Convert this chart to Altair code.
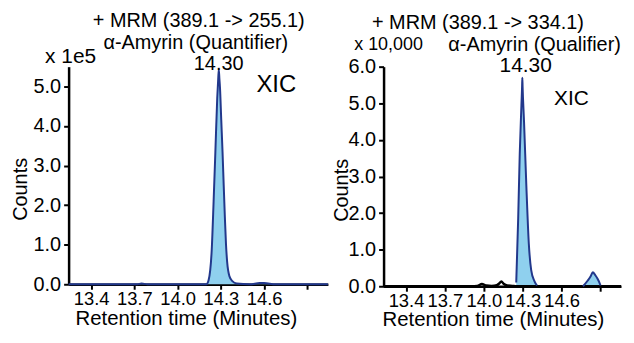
import altair as alt
import pandas as pd

FONT = "Liberation Sans"
NAVY = "#22388c"
FILL = "#8fd0ee"

# ---- Left panel: Quantifier (x 1e5) ----
left_t = [13.244, 13.6, 13.72, 13.75, 13.79, 13.85, 14.1, 14.2, 14.215, 14.237, 14.25,
          14.262, 14.275, 14.282, 14.286, 14.29, 14.294, 14.303, 14.312, 14.32, 14.328,
          14.336, 14.344, 14.36, 14.38, 14.41, 14.5, 14.57, 14.6, 14.68, 14.8, 15.043]
left_c = [0, 0, 0, 0.02, 0, 0, 0, 0, 0.1, 0.88, 2.1,
          3.33, 4.7, 5.2, 5.42, 5.2, 4.98, 4.15, 3.33, 2.5, 1.7,
          1.0, 0.56, 0.2, 0.08, 0.02, 0, 0.03, 0.03, 0, 0, 0]

# ---- Right panel: Qualifier (x 10,000) ----
right_base_t = [13.227, 13.9, 13.95, 13.985, 14.02, 14.06, 14.1, 14.12, 14.135, 14.155,
                14.18, 14.22, 14.25, 14.4, 14.7, 15.058]
right_base_c = [0, 0, 0.01, 0.06, 0.02, 0.01, 0.03, 0.08, 0.13, 0.06,
                0.02, 0.01, 0, 0, 0, 0]
right_peak_t = [14.25, 14.265, 14.277, 14.29, 14.295, 14.297, 14.299, 14.31, 14.328,
                14.347, 14.365, 14.39, 14.41]
right_peak_c = [0.1, 1.86, 3.62, 4.95, 5.45, 5.7, 5.45, 4.5, 2.74,
                1.16, 0.45, 0.14, 0.02]
right_bump_t = [14.765, 14.8, 14.825, 14.84, 14.86, 14.885, 14.9]
right_bump_c = [0, 0.15, 0.28, 0.38, 0.3, 0.15, 0.02]

x_ticks = [13.4, 13.7, 14.0, 14.3, 14.6, 14.9]
left_y_ticks = [0, 1, 2, 3, 4, 5]
right_y_ticks = [0, 1, 2, 3, 4, 5, 6]

left_dom_x = [13.244, 15.043]
right_dom_x = [13.227, 15.058]

df_left = pd.DataFrame({"t": left_t, "c": left_c, "seg": "main"})
df_rpk = pd.concat([
    pd.DataFrame({"t": right_peak_t, "c": right_peak_c, "seg": "peak"}),
    pd.DataFrame({"t": right_bump_t, "c": right_bump_c, "seg": "bump"}),
])
df_rbase = pd.DataFrame({"t": right_base_t, "c": right_base_c, "seg": "base"})

label_expr = "datum.value > 14.8 ? '' : format(datum.value, '.1f')"


def xenc(dom, title_x):
    return alt.X("t:Q", scale=alt.Scale(domain=dom, nice=False, zero=False),
                 axis=alt.Axis(values=x_ticks, labelExpr=label_expr,
                               title="Retention time (Minutes)", labelOverlap=False,
                               titleX=title_x, titleY=34, titleBaseline="middle",
                               titleAnchor="start", titleAlign="center",
                               labelPadding=0))


def yenc(dom, ticks, title_x, title_y):
    return alt.Y("c:Q", scale=alt.Scale(domain=dom, nice=False),
                 axis=alt.Axis(values=ticks, format=".1f", title="Counts",
                               labelOverlap=False, labelBound=False, tickCount=len(ticks),
                               titleX=title_x, titleY=title_y,
                               titleBaseline="middle", titleAlign="center",
                               labelFontSize=20, titleFontSize=20, labelPadding=3))


def texts(items):
    layers = []
    for txt, x, y, size in items:
        layers.append(
            alt.Chart(pd.DataFrame({"txt": [txt]})).mark_text(
                font=FONT, fontSize=size, align="center", baseline="middle",
                color="black"
            ).encode(text="txt:N", x=alt.value(x), y=alt.value(y))
        )
    return layers


# left
lx = xenc(left_dom_x, 118)
ly = yenc([0, 5.5], left_y_ticks, -48, 123)
l_area = alt.Chart(df_left).mark_area(color=FILL, interpolate="monotone").encode(
    x=lx, y=ly, detail="seg:N")
l_line = alt.Chart(df_left).mark_line(color=NAVY, strokeWidth=2, interpolate="monotone").encode(
    x=lx, y=ly, detail="seg:N")
left = alt.layer(
    l_area, l_line,
    *texts([
        ("+ MRM (389.1 -> 255.1)", 131, -45.9, 20),
        ("α-Amyrin (Quantifier)", 128, -24, 20),
        ("x 1e5", 2, -9.8, 21),
        ("14.30", 151, -2.4, 20),
        ("XIC", 209, 18.5, 24),
    ])
).properties(width=261, height=219)

# right
rx = xenc(right_dom_x, 110)
ry = yenc([0, 6], right_y_ticks, -42, 124)
r_area = alt.Chart(df_rpk).mark_area(color=FILL, interpolate="monotone").encode(
    x=rx, y=ry, detail="seg:N")
r_base = alt.Chart(df_rbase).mark_line(color="black", strokeWidth=2.5, interpolate="monotone").encode(
    x=rx, y=ry, detail="seg:N")
r_line = alt.Chart(df_rpk).mark_line(color=NAVY, strokeWidth=2, interpolate="monotone").encode(
    x=rx, y=ry, detail="seg:N")
right = alt.layer(
    r_area, r_base, r_line,
    *texts([
        ("+ MRM (389.1 -> 334.1)", 95, -43.9, 20),
        ("x 10,000", 5, -22, 18),
        ("α-Amyrin (Qualifier)", 152, -22, 20),
        ("14.30", 143, -0.5, 21),
        ("XIC", 189, 32.2, 21),
    ])
).properties(width=239, height=221)

chart = alt.hconcat(left, right, spacing=0).properties(
    padding={"left": 3, "top": 2, "right": 0, "bottom": 0}
).configure_view(stroke=None).configure_axis(
    grid=False, domainColor="black", domainWidth=2.5, tickColor="black",
    tickWidth=2, tickSize=5, labelFont=FONT, titleFont=FONT, labelFontSize=18.5,
    titleFontSize=20.5, titleFontWeight="normal", labelColor="black",
    titleColor="black", labelFlush=False
)

chart.save("out.html", embed_options={"renderer": "svg", "actions": False})
